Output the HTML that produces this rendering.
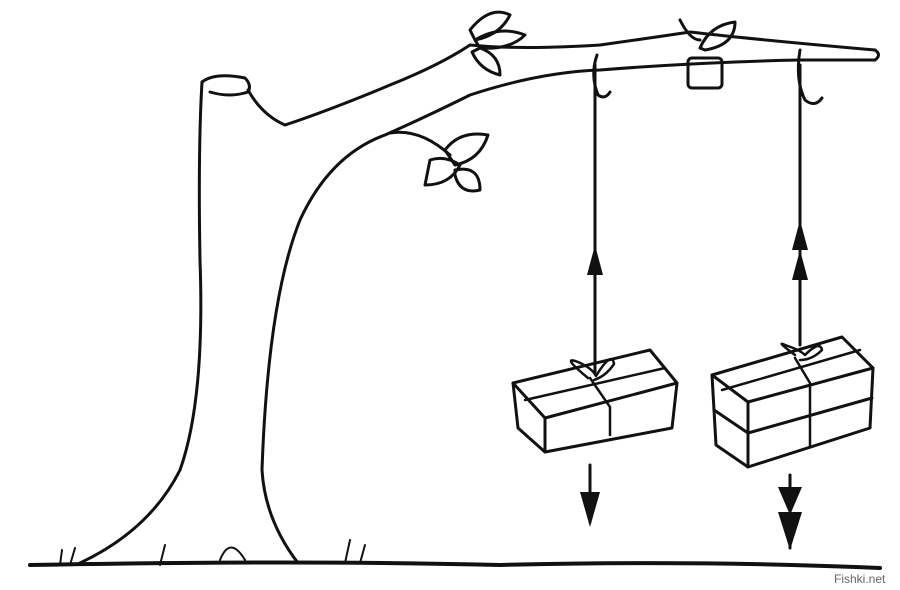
<!DOCTYPE html>
<html><head><style>html,body{margin:0;background:#fff}svg{display:block}</style></head><body>
<svg width="900" height="590" viewBox="0 0 900 590" xmlns="http://www.w3.org/2000/svg">
<rect width="900" height="590" fill="#fff"/>
<g fill="none" stroke="#111" stroke-width="3" stroke-linecap="round" stroke-linejoin="round">
<path d="M80 563 Q150 530 180 470 Q205 400 200 260 Q198 150 202 82"/>
<path d="M202 82 Q215 72 245 78 Q252 85 248 92 Q230 98 210 92"/>
<path d="M248 90 Q262 115 285 125 Q330 110 390 85 Q440 65 470 45 Q520 50 600 45 Q650 38 690 32 Q760 40 875 50"/>
<path d="M298 563 Q265 520 262 470 Q268 300 300 220 Q330 155 385 135 Q430 115 470 95 Q540 72 600 70 Q700 62 800 60 Q850 60 875 60"/>
<path d="M875 50 Q882 55 875 60"/>
<path d="M390 133 Q420 128 450 155"/>
<path d="M470 30 Q490 5 510 15 Q500 35 475 40 Z"/>
<path d="M475 40 Q500 25 525 35 Q510 50 480 48 Z"/>
<path d="M472 52 Q480 70 500 75 Q500 55 480 48 Z"/>
<path d="M445 150 Q460 130 488 135 Q480 160 455 165 Z"/>
<path d="M430 160 Q445 155 460 165 Q450 185 425 185 Z"/>
<path d="M455 170 Q480 165 480 190 Q460 195 455 175 Z"/>
<path d="M700 48 Q710 25 735 22 Q735 45 705 50 Z"/>
<path d="M680 20 Q690 40 700 40"/>
<rect x="688" y="58" width="34" height="30" rx="4"/>
<path d="M597 55 Q590 75 598 95 Q605 100 610 92"/>
<path d="M800 50 Q795 80 805 100 Q815 108 822 98"/>
<path d="M595 65 L595 372"/>
<path d="M800 65 L800 345"/>
<path d="M30 565 Q300 560 500 565 Q700 560 880 568" stroke-width="4"/>
<path d="M60 565 L62 550 M70 565 L75 548 M160 565 L165 545 M220 560 Q230 535 245 560 M345 563 L350 540 M360 563 L365 545" stroke-width="2"/>
<!-- box 1 -->
<path d="M513 383 L650 350 L677 383 L545 418 Z"/>
<path d="M513 383 L518 428 L545 452 L672 428 L677 383"/>
<path d="M545 418 L545 452"/>
<path d="M525 400 L665 368" stroke-width="2.5"/>
<path d="M590 378 L610 407 L610 435" stroke-width="2.5"/>
<path d="M588 378 Q560 355 578 362 Q592 368 596 376 Q612 350 614 364 Q606 376 594 380" stroke-width="2.5"/>
<!-- box 2 -->
<path d="M712 375 L842 337 L873 368 L748 402 Z"/>
<path d="M712 375 L716 445 L748 467 L870 428 L873 368"/>
<path d="M748 402 L748 467"/>
<path d="M714 410 L748 433 L872 398"/>
<path d="M795 358 L810 383 L810 447" stroke-width="2.5"/>
<path d="M722 390 L860 350" stroke-width="2.5"/>
<path d="M795 355 Q775 340 785 345 Q800 350 805 355 Q820 340 822 350 Q812 360 800 360" stroke-width="2.5"/>
<path d="M590 465 L590 522"/>
<path d="M790 475 L790 548"/>
</g>
<g fill="#111">
<polygon points="595,245 587,275 603,275"/>
<polygon points="800,220 792,250 808,250"/>
<polygon points="800,250 792,280 808,280"/>
<polygon points="590,527 580,492 600,492"/>
<polygon points="790,515 778,487 802,487"/>
<polygon points="790,550 778,512 802,512"/>
</g>
<text x="834" y="583" font-family="Liberation Sans, sans-serif" font-size="12" fill="#666">Fishki.net</text>
</svg>
</body></html>
